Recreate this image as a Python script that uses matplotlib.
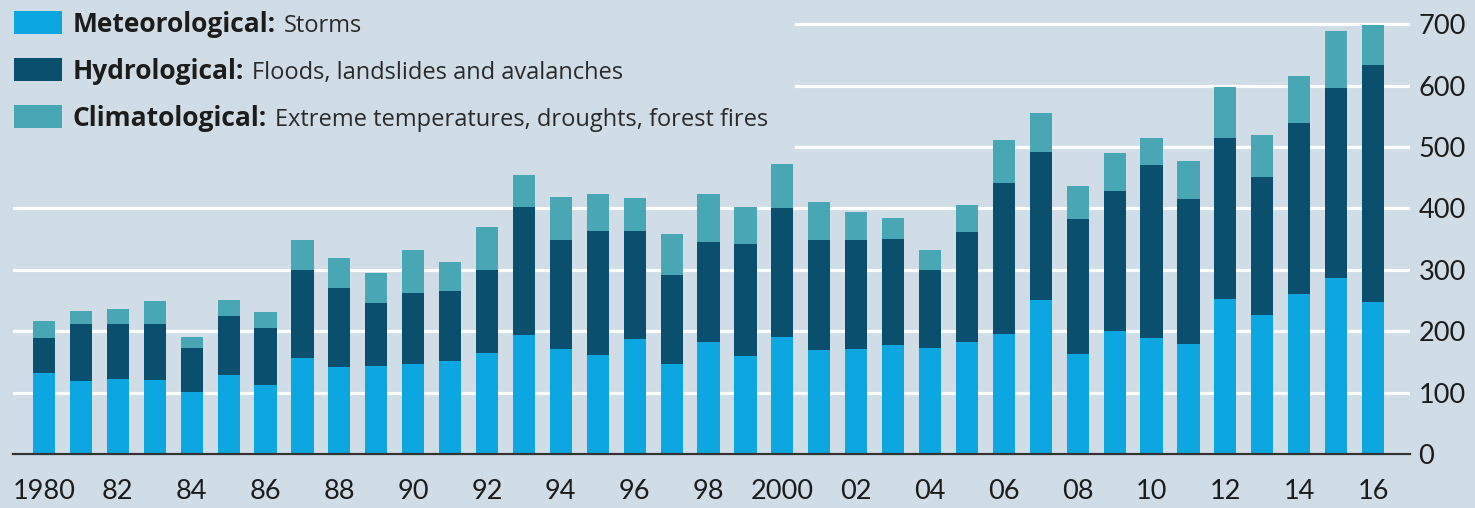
import matplotlib
matplotlib.use("Agg")
from matplotlib import pyplot as plt
from matplotlib.patches import Rectangle
import numpy as np

years = list(range(1980, 2017))
meteorological = [132, 119, 122, 120, 101, 129, 112, 156, 142, 144, 147, 151, 165,
                  194, 171, 161, 188, 146, 182, 159, 190, 169, 171, 177, 173, 182,
                  196, 251, 163, 201, 189, 180, 252, 227, 260, 286, 248]
hydrological = [57, 93, 90, 92, 72, 96, 94, 144, 128, 102, 116, 115, 135,
                209, 178, 202, 175, 146, 164, 183, 211, 180, 177, 174, 127, 179,
                246, 241, 220, 227, 281, 236, 263, 225, 280, 311, 385]
climatological = [28, 21, 24, 38, 17, 26, 26, 49, 50, 49, 70, 47, 70,
                  51, 70, 60, 54, 66, 77, 60, 72, 62, 46, 34, 33, 45,
                  69, 63, 53, 63, 44, 62, 83, 68, 75, 92, 66]
tick_years = years[::2]
tick_labels = ["1980", "82", "84", "86", "88", "90", "92", "94", "96", "98", "2000",
               "02", "04", "06", "08", "10", "12", "14", "16"]
y_ticks = [0, 100, 200, 300, 400, 500, 600, 700]

legend_items = [
    ("Meteorological:", "Storms"),
    ("Hydrological:", "Floods, landslides and avalanches"),
    ("Climatological:", "Extreme temperatures, droughts, forest fires"),
]

BG = "#d0dde6"
C_MET = "#0ca7e0"
C_HYD = "#0a4f6d"
C_CLI = "#48a6b5"
TXT = "#1c1c1c"

plt.rcParams["font.family"] = ["Lato", "DejaVu Sans"]
LEG_FONT = ["Open Sans", "DejaVu Sans"]

W, H = 1475, 508
fig = plt.figure(figsize=(W / 100, H / 100), dpi=100, facecolor=BG)
ax = fig.add_axes([13 / W, 54 / H, (1410 - 13) / W, (454 - 12) / H])
ax.set_facecolor(BG)

met = np.array(meteorological)
hyd = np.array(hydrological)
cli = np.array(climatological)
width = 0.6
ax.bar(years, met, width, color=C_MET, zorder=2)
ax.bar(years, hyd, width, bottom=met, color=C_HYD, zorder=2)
ax.bar(years, cli, width, bottom=met + hyd, color=C_CLI, zorder=2)

ax.set_xlim(1979.16, 2017.0)
ax.set_ylim(0, 720)

ax.yaxis.tick_right()
ax.set_yticks(y_ticks)
ax.set_yticklabels([str(v) for v in y_ticks])
ax.set_xticks(tick_years)
ax.set_xticklabels(tick_labels)
ax.tick_params(axis="x", length=0, pad=18, labelsize=19.5, colors=TXT)
ax.tick_params(axis="y", length=0, pad=6, labelsize=19.5, colors=TXT)
for lbl in ax.get_yticklabels():
    lbl.set_horizontalalignment("left")

ax.grid(axis="y", color="white", linewidth=2.3, zorder=1)
ax.set_axisbelow(True)
for s in ["top", "left", "right"]:
    ax.spines[s].set_visible(False)
ax.spines["bottom"].set_color("#333333")
ax.spines["bottom"].set_linewidth(1.6)
ax.spines["bottom"].set_zorder(3)

# box behind legend hides the top gridlines
fig.patches.append(Rectangle((0, 1 - 160 / H), 795 / W, 160 / H,
                             transform=fig.transFigure, facecolor=BG,
                             edgecolor="none", zorder=1))

colors = [C_MET, C_HYD, C_CLI]
row_y = [22.5, 69.5, 116.5]
fig.canvas.draw()
renderer = fig.canvas.get_renderer()
for (bold, rest), c, yc in zip(legend_items, colors, row_y):
    fig.patches.append(Rectangle((14 / W, 1 - (yc + 11.5) / H), 48 / W, 23 / H,
                                 transform=fig.transFigure, facecolor=c,
                                 edgecolor="none", zorder=2))
    t = fig.text(73 / W, 1 - (yc + 9.5) / H, bold, fontsize=19, fontweight="bold",
                 family=LEG_FONT, color=TXT, va="baseline", ha="left", zorder=3)
    bb = t.get_window_extent(renderer)
    fig.text((bb.x1 + 8) / W, 1 - (yc + 9.5) / H, rest, fontsize=17,
             family=LEG_FONT, color="#2a2a2a", va="baseline", ha="left", zorder=3)

plt.savefig("out.png", dpi=100, facecolor=BG)
